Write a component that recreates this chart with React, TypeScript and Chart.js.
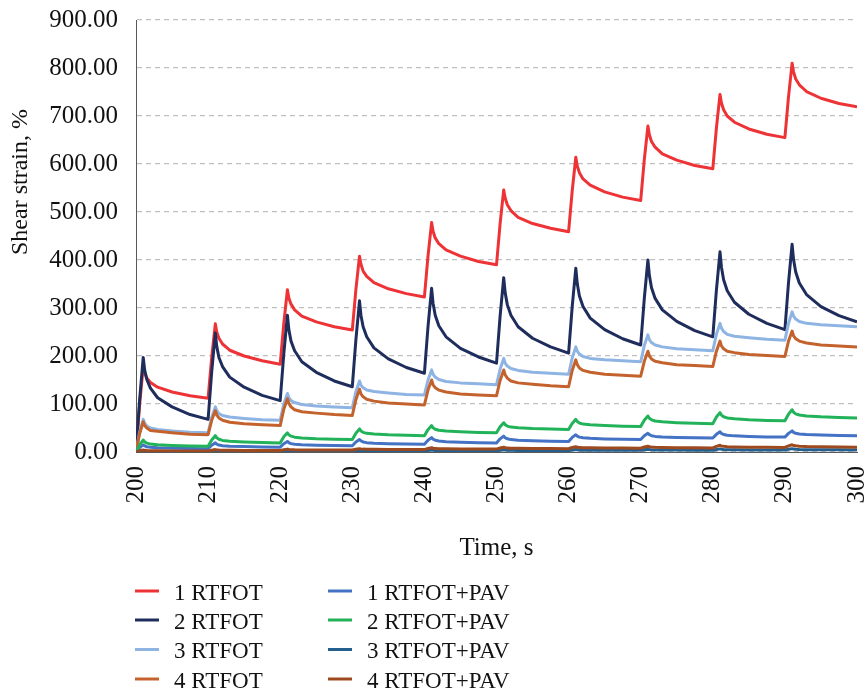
import React, { useEffect, useRef } from "react";
import { Chart, registerables } from "chart.js";

Chart.register(...registerables);

// Time points (s): per 10 s cycle, 1 s creep then 9 s recovery
const times = [
  200, 200.5, 201, 201.2, 201.5, 202, 203, 205, 207.5,
  210, 210.5, 211, 211.2, 211.5, 212, 213, 215, 217.5,
  220, 220.5, 221, 221.2, 221.5, 222, 223, 225, 227.5,
  230, 230.5, 231, 231.2, 231.5, 232, 233, 235, 237.5,
  240, 240.5, 241, 241.2, 241.5, 242, 243, 245, 247.5,
  250, 250.5, 251, 251.2, 251.5, 252, 253, 255, 257.5,
  260, 260.5, 261, 261.2, 261.5, 262, 263, 265, 267.5,
  270, 270.5, 271, 271.2, 271.5, 272, 273, 275, 277.5,
  280, 280.5, 281, 281.2, 281.5, 282, 283, 285, 287.5,
  290, 290.5, 291, 291.2, 291.5, 292, 293, 295, 297.5,
  300,
];

const rtfot1 = [
  0, 98, 178, 165, 154, 145, 135, 125, 117,
  112, 197, 267, 250, 237, 225, 212, 200, 190,
  183, 268, 338, 321, 308, 296, 283, 271, 261,
  254, 339, 408, 391, 377, 366, 353, 340, 330,
  323, 408, 478, 460, 446, 434, 421, 408, 397,
  390, 476, 546, 529, 515, 503, 489, 476, 466,
  459, 544, 614, 596, 582, 569, 556, 542, 531,
  524, 609, 679, 661, 647, 635, 621, 608, 597,
  590, 675, 745, 727, 713, 700, 687, 673, 662,
  655, 740, 810, 792, 777, 765, 751, 737, 726,
  719,
];

const rtfot2 = [
  0, 108, 197, 171, 151, 133, 113, 94, 78,
  68, 167, 248, 220, 197, 178, 156, 135, 118,
  107, 205, 285, 255, 231, 211, 188, 166, 148,
  136, 234, 315, 285, 261, 240, 217, 194, 176,
  164, 261, 341, 310, 285, 263, 240, 216, 198,
  185, 283, 363, 332, 307, 285, 261, 237, 219,
  206, 303, 383, 351, 325, 303, 279, 255, 236,
  223, 320, 400, 368, 342, 320, 296, 272, 253,
  240, 337, 417, 385, 359, 336, 312, 287, 268,
  255, 353, 433, 401, 375, 352, 328, 303, 284,
  271,
];

const rtfot3 = [
  0, 41, 68, 60, 54, 50, 47, 44, 41,
  40, 72, 94, 86, 80, 76, 73, 70, 67,
  66, 100, 122, 113, 107, 103, 99, 96, 94,
  92, 126, 148, 139, 134, 129, 126, 123, 120,
  119, 150, 171, 162, 156, 151, 147, 144, 142,
  140, 173, 195, 185, 179, 174, 170, 166, 164,
  162, 196, 219, 210, 204, 199, 195, 192, 190,
  188, 222, 244, 234, 228, 223, 219, 215, 213,
  211, 245, 268, 258, 251, 245, 241, 238, 235,
  233, 268, 292, 283, 277, 272, 268, 265, 263,
  261,
];

const rtfot4 = [
  0, 38, 63, 55, 50, 45, 43, 40, 37,
  36, 66, 86, 77, 71, 66, 62, 59, 57,
  55, 89, 111, 101, 94, 88, 84, 81, 78,
  76, 109, 131, 121, 115, 110, 106, 102, 100,
  98, 129, 150, 140, 134, 129, 125, 121, 119,
  117, 149, 171, 161, 154, 148, 144, 141, 138,
  136, 170, 192, 182, 175, 170, 166, 162, 160,
  158, 189, 210, 200, 194, 189, 186, 182, 180,
  178, 210, 231, 221, 215, 210, 207, 203, 201,
  199, 231, 252, 242, 236, 231, 227, 223, 221,
  219,
];

const pav1 = [
  0, 9, 15, 12.6, 11, 9.8, 8.9, 8, 7.4,
  7, 14.2, 19, 16.3, 14.5, 13.1, 12.2, 11.2, 10.4,
  10, 17.2, 22, 19.3, 17.5, 16.1, 15.2, 14.2, 13.4,
  13, 20.8, 26, 23, 21, 19.5, 18.4, 17.3, 16.5,
  16, 24.4, 30, 26.7, 24.5, 22.8, 21.6, 20.4, 19.5,
  19, 27.4, 33, 29.7, 27.5, 25.8, 24.6, 23.4, 22.5,
  22, 30.4, 36, 33, 31, 29.5, 28.4, 27.3, 26.5,
  26, 33.8, 39, 36, 34, 32.5, 31.4, 30.3, 29.5,
  29, 36.8, 42, 38.7, 36.5, 34.8, 33.6, 32.4, 31.5,
  31, 38.8, 44, 41, 39, 37.5, 36.4, 35.3, 34.5,
  34,
];

const pav2 = [
  0, 15, 25, 21, 18.5, 16.5, 15, 13.7, 12.6,
  12, 25, 34, 29.5, 26.5, 24.2, 22.6, 21, 19.7,
  19, 31.6, 40, 35.8, 33, 30.9, 29.4, 27.8, 26.7,
  26, 39.2, 48, 43.8, 41, 38.9, 37.4, 35.8, 34.7,
  34, 46.6, 55, 50.5, 47.5, 45.2, 43.6, 42, 40.7,
  40, 52.6, 61, 56.8, 54, 51.9, 50.4, 48.8, 47.7,
  47, 59.6, 68, 63.5, 60.5, 58.2, 56.6, 55, 53.7,
  53, 66.2, 75, 70.2, 67, 64.6, 62.8, 61.1, 59.8,
  59, 72.8, 82, 76.9, 73.5, 71, 69.1, 67.2, 65.8,
  65, 78.8, 88, 82.9, 79.5, 77, 75.1, 73.2, 71.8,
  71,
];

const pav3 = [
  0, 1.3, 2, 1.6, 1.4, 1.3, 1.2, 1.1, 1,
  1, 1.8, 2.5, 2.1, 1.9, 1.7, 1.6, 1.5, 1.4,
  1.4, 2.3, 3, 2.6, 2.3, 2.1, 2, 1.9, 1.8,
  1.8, 2.7, 3.5, 3, 2.7, 2.5, 2.4, 2.3, 2.2,
  2.2, 3.2, 4, 3.5, 3.2, 3, 2.8, 2.7, 2.6,
  2.6, 3.7, 4.5, 4, 3.7, 3.4, 3.2, 3.1, 3,
  3, 4.3, 5.2, 4.6, 4.2, 3.9, 3.7, 3.5, 3.4,
  3.4, 4.7, 5.8, 5.1, 4.7, 4.4, 4.2, 4, 3.8,
  3.8, 5.2, 6.5, 5.7, 5.2, 4.8, 4.5, 4.3, 4.1,
  4.1, 5.6, 7, 6.1, 5.6, 5.2, 4.9, 4.7, 4.5,
  4.4,
];

const pav4 = [
  0, 2.5, 4, 3.4, 3, 2.7, 2.5, 2.2, 2.1,
  2, 3.7, 5, 4.4, 4, 3.7, 3.5, 3.3, 3.1,
  3, 4.8, 6, 5.1, 4.9, 4.6, 4.4, 4.2, 4.1,
  4, 5.8, 7, 6.4, 6, 5.7, 5.5, 5.3, 5.1,
  5, 7.4, 9, 7.8, 7.5, 7, 6.7, 6.4, 6.1,
  6, 8.4, 10, 8.8, 8.5, 8, 7.7, 7.4, 7.1,
  7, 9.4, 11, 9.8, 9.5, 9, 8.7, 8.4, 8.1,
  8, 10.4, 12, 10.9, 10.3, 9.8, 9.4, 9, 8.6,
  8.5, 11.8, 14, 12.4, 11.8, 11.1, 10.6, 10, 9.7,
  9.5, 12.8, 15, 13.5, 12.8, 12.1, 11.4, 10.8, 10.3,
  10,
];

const seriesLabels = [
  "1 RTFOT", "2 RTFOT", "3 RTFOT", "4 RTFOT",
  "1 RTFOT+PAV", "2 RTFOT+PAV", "3 RTFOT+PAV", "4 RTFOT+PAV",
];
const seriesValues = [rtfot1, rtfot2, rtfot3, rtfot4, pav1, pav2, pav3, pav4];
const seriesColors = [
  "#EE3336", "#1F2D5C", "#8EB4E3", "#C4622D",
  "#4472C4", "#22B35A", "#24608F", "#9E4A1E",
];

const yTicks = [0, 100, 200, 300, 400, 500, 600, 700, 800, 900];
const xTicks = [200, 210, 220, 230, 240, 250, 260, 270, 280, 290, 300];

const X_TITLE = "Time, s";
const Y_TITLE = "Shear strain, %";
const FONT = '"Liberation Serif", "Times New Roman", serif';

const customText = {
  id: "customText",
  afterDraw(chart: any) {
    const ctx = chart.ctx as CanvasRenderingContext2D;
    ctx.save();
    ctx.fillStyle = "#111";
    ctx.font = `24px ${FONT}`;
    ctx.translate(21, 182);
    ctx.rotate(-Math.PI / 2);
    ctx.textAlign = "center";
    ctx.textBaseline = "middle";
    ctx.fillText(Y_TITLE, 0, 0);
    ctx.restore();

    // legend: two columns of four
    ctx.save();
    ctx.font = `23px ${FONT}`;
    ctx.textAlign = "left";
    ctx.textBaseline = "alphabetic";
    const colX = [135, 328];
    const rowY = [591, 620, 649.5, 679];
    chart.data.datasets.forEach((ds: any, i: number) => {
      const col = i < 4 ? 0 : 1;
      const row = i % 4;
      const x = colX[col];
      const y = rowY[row];
      ctx.strokeStyle = ds.borderColor;
      ctx.lineWidth = 3;
      ctx.beginPath();
      ctx.moveTo(x, y);
      ctx.lineTo(x + 24, y);
      ctx.stroke();
      ctx.fillStyle = "#111";
      ctx.fillText(ds.label, x + 39, y + 8.5);
    });
    ctx.restore();
  },
};

export default function App() {
  const ref = useRef<HTMLCanvasElement | null>(null);

  useEffect(() => {
    document.body.style.margin = "0";
    if (!ref.current) return;
    const datasets = seriesValues.map((vals, i) => ({
      label: seriesLabels[i],
      data: times.map((t, j) => ({ x: t, y: vals[j] })),
      borderColor: seriesColors[i],
      backgroundColor: seriesColors[i],
      borderWidth: 3,
      pointRadius: 0,
      tension: 0,
      borderJoinStyle: "round" as const,
      fill: false,
      order: seriesValues.length - i,
    }));

    const chart = new Chart(ref.current, {
      type: "line",
      data: { datasets },
      plugins: [customText],
      options: {
        animation: false,
        responsive: false,
        maintainAspectRatio: false,
        layout: { padding: { top: 20, right: 10, bottom: 121, left: 0 } },
        plugins: {
          legend: { display: false },
          tooltip: { enabled: false },
        },
        scales: {
          x: {
            type: "linear",
            min: xTicks[0],
            max: xTicks[xTicks.length - 1],
            afterBuildTicks: (s: any) => {
              s.ticks = xTicks.map((v) => ({ value: v }));
            },
            afterFit: (s: any) => {
              s.height = 115;
              s.paddingLeft = 0;
              s.paddingRight = 0;
            },
            grid: { display: false, drawTicks: false },
            border: { display: true, color: "#595959", width: 1 },
            ticks: {
              autoSkip: false,
              minRotation: 90,
              maxRotation: 90,
              padding: 14,
              color: "#111",
              font: { family: FONT, size: 25 },
            },
            title: {
              display: true,
              text: X_TITLE,
              color: "#111",
              font: { family: FONT, size: 25 },
              padding: { top: 4, bottom: 4 },
            },
          },
          y: {
            type: "linear",
            min: yTicks[0],
            max: yTicks[yTicks.length - 1],
            afterBuildTicks: (s: any) => {
              s.ticks = yTicks.map((v) => ({ value: v }));
            },
            afterFit: (s: any) => {
              s.width = 136;
              s.paddingTop = 0;
              s.paddingBottom = 0;
            },
            grid: {
              drawTicks: false,
              color: "#C0C0C0",
              lineWidth: 1.3,
            },
            border: { display: true, color: "#595959", width: 1, dash: [5, 4] },
            ticks: {
              padding: 18,
              color: "#111",
              font: { family: FONT, size: 25 },
              callback: (v: any) => Number(v).toFixed(2),
            },
            title: { display: false },
          },
        },
      },
    });
    return () => chart.destroy();
  }, []);

  return (
    <div style={{ width: 867, height: 688 }}>
      <canvas ref={ref} width={867} height={688} />
    </div>
  );
}
